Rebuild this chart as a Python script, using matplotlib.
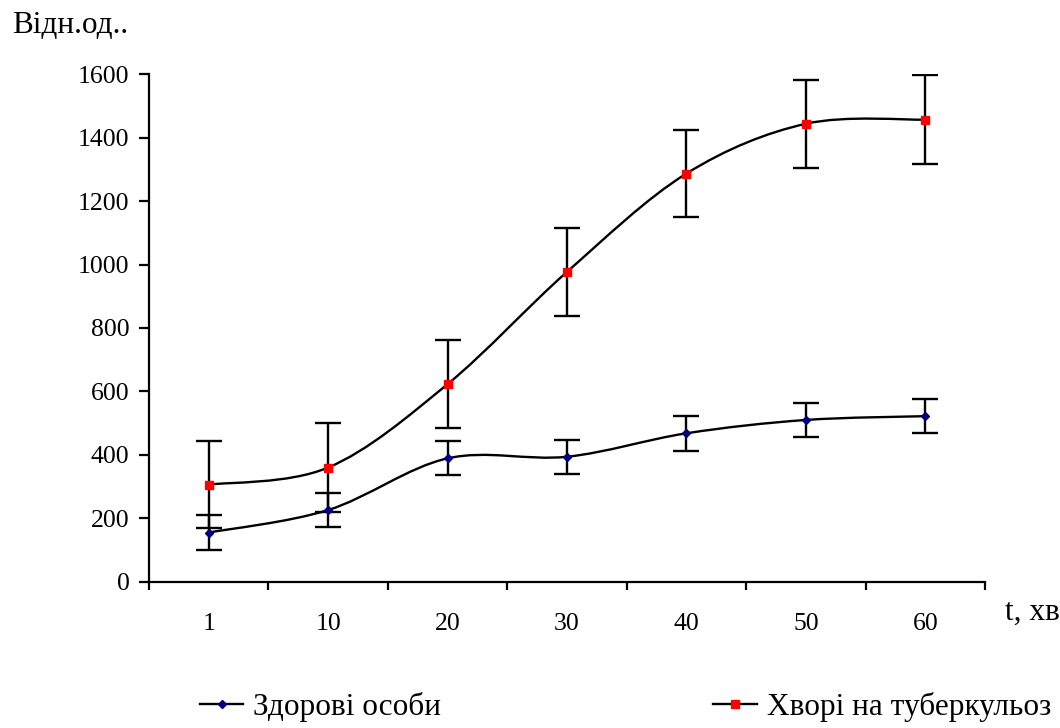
import matplotlib
matplotlib.use("Agg")
import matplotlib.pyplot as plt
from matplotlib.path import Path
from matplotlib.patches import PathPatch
from matplotlib.lines import Line2D
import numpy as np

plt.rcParams['font.family'] = ['Liberation Serif', 'DejaVu Serif']

categories = ["1", "10", "20", "30", "40", "50", "60"]
healthy = [155, 226, 389, 394, 468, 510, 522]
healthy_err = [54, 53, 54, 54, 55, 54, 53]
tb = [306, 360, 623, 977, 1287, 1444, 1457]
tb_err = [138, 140, 139, 138, 138, 138, 140]

series_names = ["Здорові особи", "Хворі на туберкульоз"]
y_label = "Відн.од.."
x_label = "t, хв"
y_ticks = [0, 200, 400, 600, 800, 1000, 1200, 1400, 1600]

FS = 18.5
FS_BIG = 22.5


def smooth_path(xs, ys):
    xs = list(xs); ys = list(ys)
    n = len(xs)
    verts = [(xs[0], ys[0])]
    codes = [Path.MOVETO]
    for i in range(n - 1):
        x0, y0 = (xs[i - 1], ys[i - 1]) if i > 0 else (xs[i], ys[i])
        x1, y1 = xs[i], ys[i]
        x2, y2 = xs[i + 1], ys[i + 1]
        x3, y3 = (xs[i + 2], ys[i + 2]) if i + 2 < n else (xs[i + 1], ys[i + 1])
        c1 = (x1 + (x2 - x0) / 6.0, y1 + (y2 - y0) / 6.0)
        c2 = (x2 - (x3 - x1) / 6.0, y2 - (y3 - y1) / 6.0)
        verts += [c1, c2, (x2, y2)]
        codes += [Path.CURVE4] * 3
    return Path(verts, codes)


fig = plt.figure(figsize=(10.6, 7.28), dpi=100)
ax = fig.add_axes([149 / 1060, 1 - 581.7 / 728, (985 - 149) / 1060, (581.7 - 74.3) / 728])

xpos = np.arange(len(categories))

styles = [
    dict(data=healthy, err=healthy_err, marker='D', ms=4.2, mfc='#000080', mec='#000080'),
    dict(data=tb, err=tb_err, marker='s', ms=5.2, mfc='#ff0000', mec='#ff0000'),
]

for s in styles:
    patch = PathPatch(smooth_path(xpos, s['data']), facecolor='none', edgecolor='black',
                      lw=1.7, zorder=2, capstyle='round', joinstyle='round')
    ax.add_patch(patch)
    ax.errorbar(xpos, s['data'], yerr=s['err'], fmt='none', ecolor='black',
                elinewidth=1.7, capsize=9.5, capthick=1.7, zorder=3)
    ax.plot(xpos, s['data'], ls='none', marker=s['marker'], ms=s['ms'],
            mfc=s['mfc'], mec=s['mec'], zorder=4)

ax.set_xlim(-0.5, len(categories) - 0.5)
ax.set_ylim(0, 1600)

ax.set_xticks(np.arange(-0.5, len(categories), 1.0))
ax.set_xticklabels([])
ax.set_xticks(xpos, minor=True)
ax.set_xticklabels(categories, minor=True, fontsize=FS)
ax.tick_params(axis='x', which='major', direction='out', length=6, width=1.6, color='black')
ax.tick_params(axis='x', which='minor', length=0, pad=22.5)

ax.set_yticks(y_ticks)
ax.set_yticklabels([str(v) for v in y_ticks], fontsize=FS)
ax.tick_params(axis='y', which='major', direction='out', length=7, width=1.6, color='black', pad=7)

for side in ['top', 'right']:
    ax.spines[side].set_visible(False)
for side in ['left', 'bottom']:
    ax.spines[side].set_linewidth(1.6)
    ax.spines[side].set_color('black')

fig.text(12 / 1060, 1 - 33 / 728, y_label, fontsize=FS_BIG, ha='left', va='baseline')
fig.text(1005 / 1060, 1 - 620 / 728, x_label, fontsize=FS_BIG, ha='left', va='baseline')

handles = [
    Line2D([], [], color='black', lw=1.7, marker='D', ms=4.2, mfc='#000080', mec='#000080'),
    Line2D([], [], color='black', lw=1.7, marker='s', ms=5.2, mfc='#ff0000', mec='#ff0000'),
]
fig.legend(handles, series_names, loc='center', bbox_to_anchor=(625.5 / 1060, 1 - 707 / 728),
           ncol=2, frameon=False, fontsize=FS_BIG, handlelength=1.4, handletextpad=0.32,
           columnspacing=8.7, borderaxespad=0, borderpad=0)

fig.savefig("out.png", dpi=100)
